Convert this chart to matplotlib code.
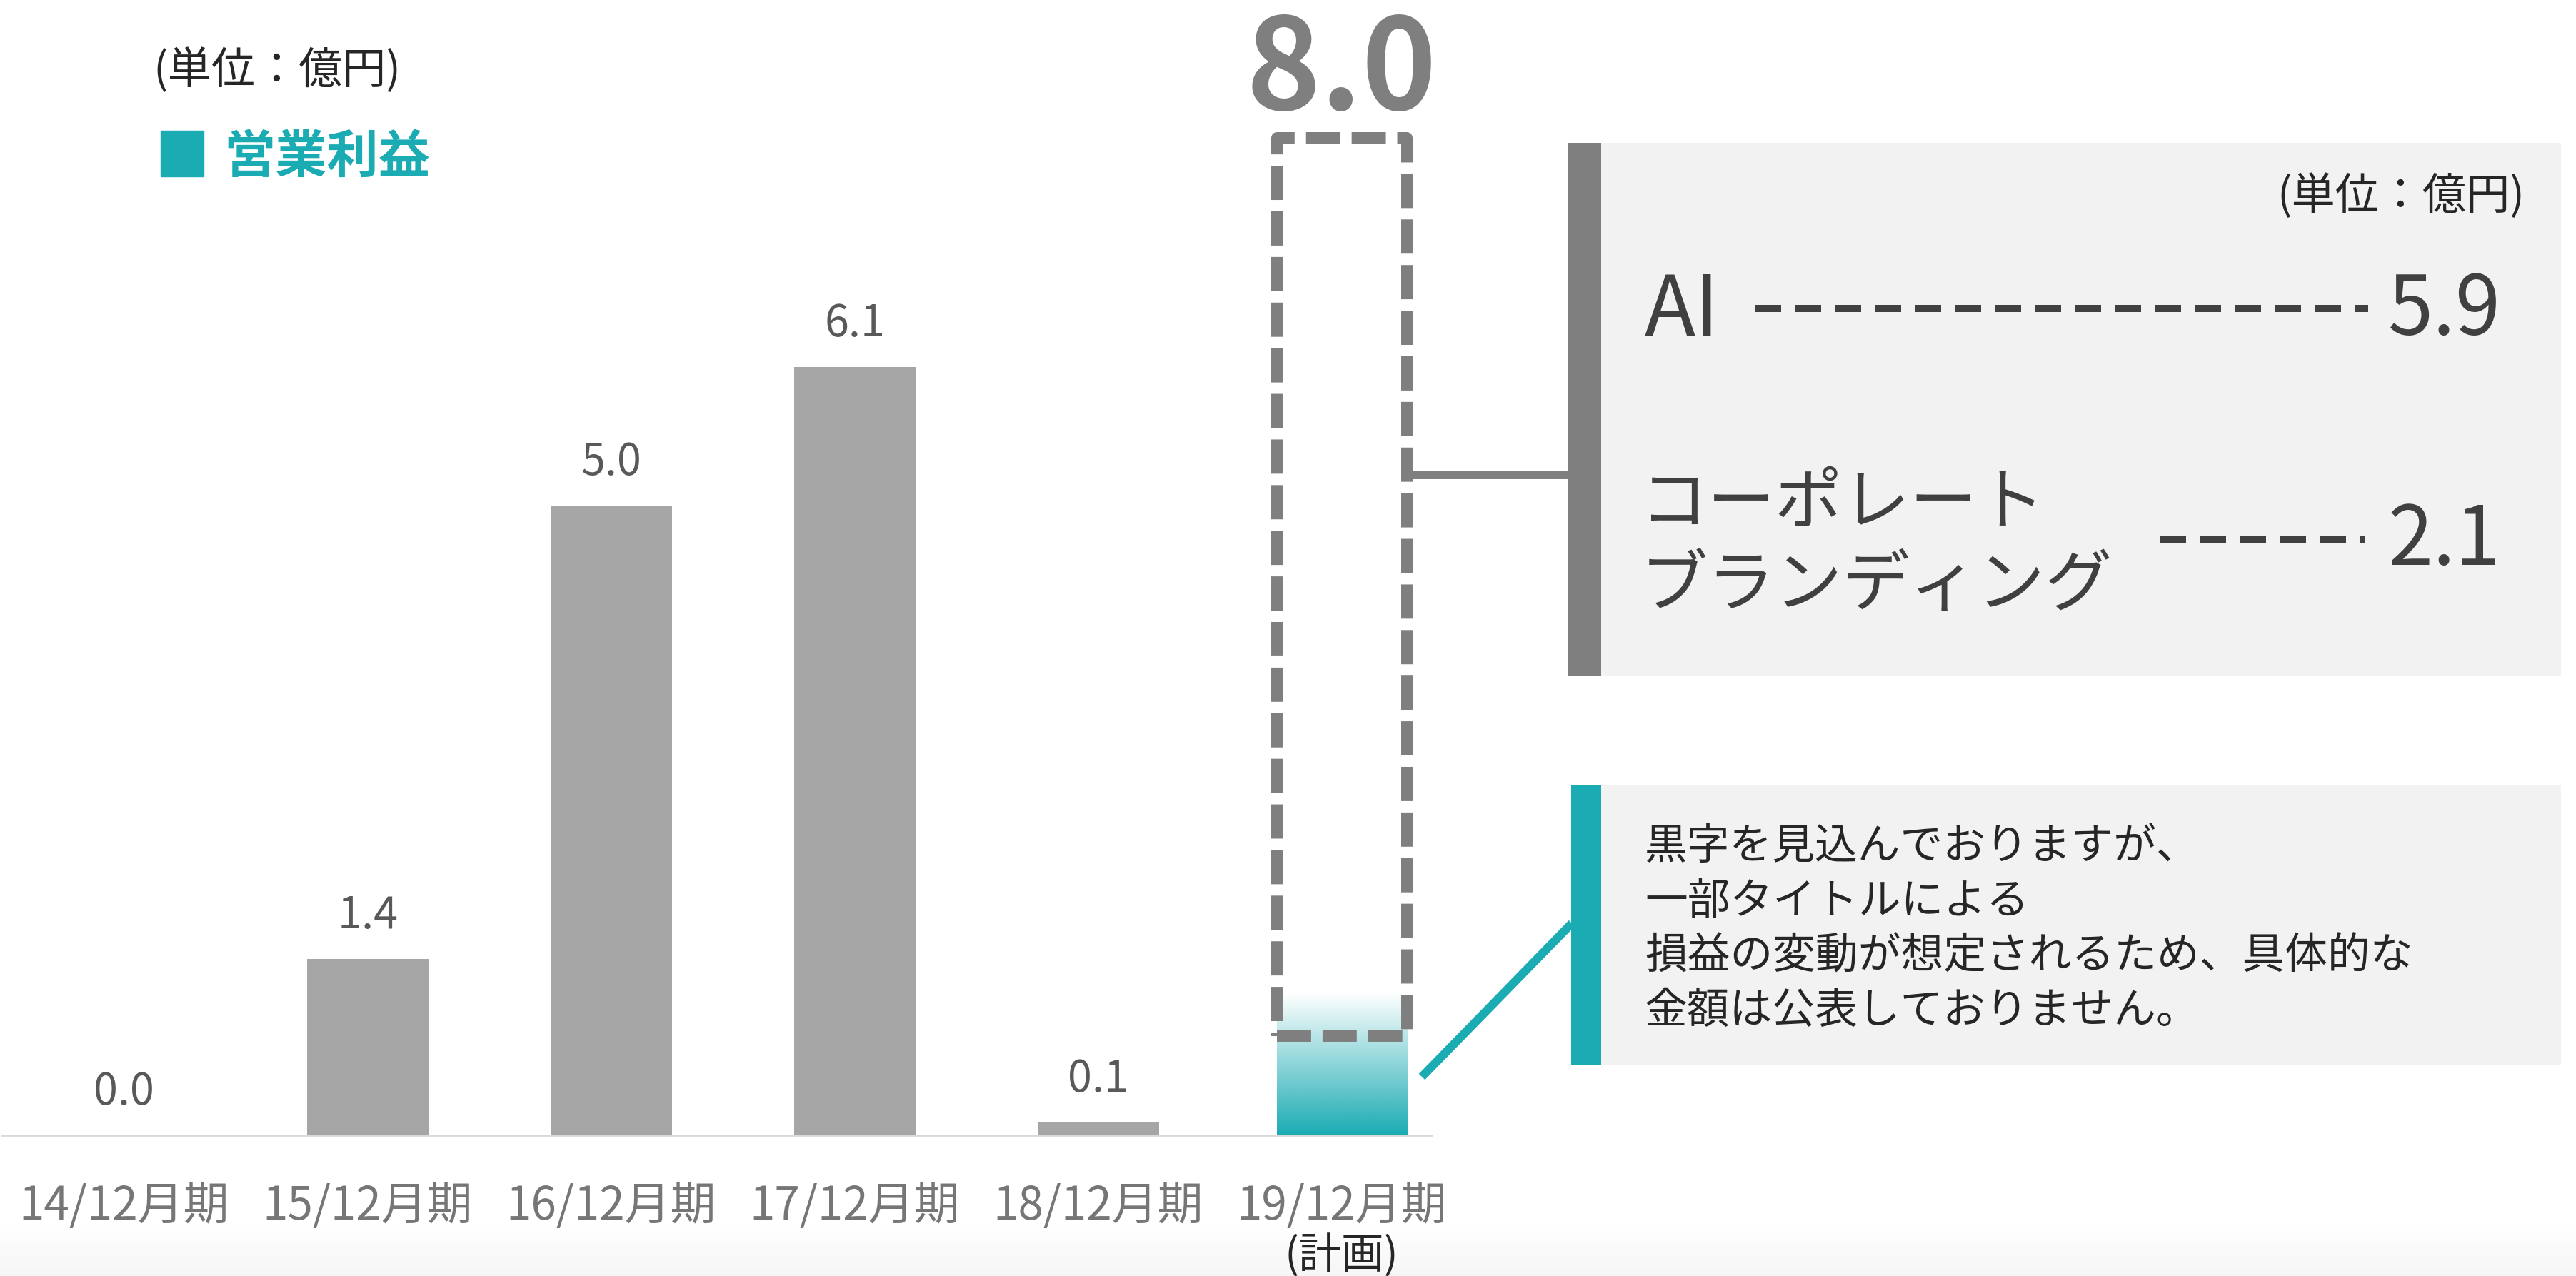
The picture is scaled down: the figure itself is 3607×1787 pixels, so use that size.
import numpy as np
import matplotlib.pyplot as plt
from matplotlib.patches import Rectangle
from matplotlib.colors import to_rgb

plt.rcParams['font.family'] = ['Noto Sans CJK JP', 'DejaVu Sans']

# 営業利益（億円）
periods = ['14/12月期', '15/12月期', '16/12月期', '17/12月期', '18/12月期', '19/12月期']
profit = [0.0, 1.4, 5.0, 6.1, 0.1]
plan_total = 8.0
plan_note = '(計画)'
unit_text = '(単位：億円)'
legend_text = '営業利益'

# 計画の内訳
segments = ['AI', 'コーポレート\nブランディング']
segment_values = [5.9, 2.1]

note_lines = ['黒字を見込んでおりますが、',
              '一部タイトルによる',
              '損益の変動が想定されるため、具体的な',
              '金額は公表しておりません。']

TEAL = '#1aabb3'
BAR_GRAY = '#a6a6a6'
BOX_GRAY = '#7f7f7f'
LABEL_GRAY = '#595959'
TICK_GRAY = '#767676'
DARK = '#262626'
PANEL_TEXT = '#404040'
PANEL_BG = '#f2f2f2'

W, H = 3607, 1787
fig = plt.figure(figsize=(W / 100, H / 100), dpi=100)

# pixel-space layer for the side panels and connectors
ov = fig.add_axes([0, 0, 1, 1])
shade = np.ones((64, 1, 3))
shade[:, 0, :] = np.linspace(1.0, 0.965, 64)[:, None]
ov.imshow(shade, extent=(0, W, H, 1715), origin='upper', aspect='auto', zorder=0)
ov.set_xlim(0, W)
ov.set_ylim(H, 0)
ov.axis('off')

# bar chart
px_per_unit = 176.4
base_y = 1590
ax = fig.add_axes([3 / W, (H - base_y) / H, 2002 / W, 9 * px_per_unit / H])
ax.patch.set_alpha(0)

x = np.arange(len(profit))
ax.bar(x, profit, width=0.5, color=BAR_GRAY, zorder=2)
for xi, v in zip(x, profit):
    ax.annotate(f'{v:.1f}', (xi, v), xytext=(0, 31), textcoords='offset points',
                ha='center', va='baseline', fontsize=44, color=LABEL_GRAY)

# 19/12期: gradient fill + dashed outline for the plan
plan_x = len(profit)
half_w = 0.267
fill_top = 1.13
box_bottom = 0.79
box_inset = 0.08  # keep the thick outline inside the plan height
grad = np.ones((256, 1, 4))
grad[..., :3] = to_rgb(TEAL)
grad[:, 0, 3] = np.linspace(1, 0, 256)
ax.imshow(grad, extent=(plan_x - half_w, plan_x + half_w, 0, fill_top),
          origin='lower', aspect='auto', zorder=2)
ax.add_patch(Rectangle((plan_x - half_w, box_bottom), 2 * half_w,
                       plan_total - box_inset - box_bottom,
                       fill=False, ec=BOX_GRAY, lw=11.5, ls=(0, (3, 1)),
                       joinstyle='round', zorder=3))
ax.annotate(f'{plan_total:.1f}', (plan_x, plan_total), xytext=(0, 18),
            textcoords='offset points', ha='center', va='baseline',
            fontsize=128, fontweight='bold', color=BOX_GRAY)

ax.set_xlim(-0.501, 5.37)
ax.set_ylim(0, 9)
ax.set_yticks([])
ax.set_xticks(range(len(periods)), periods, fontsize=46, color=TICK_GRAY)
ax.tick_params(axis='x', length=0, pad=48)
for s in ['top', 'right', 'left']:
    ax.spines[s].set_visible(False)
ax.spines['bottom'].set_color('#d9d9d9')
ax.spines['bottom'].set_linewidth(2)
ax.text(plan_x, -170 / px_per_unit, plan_note, ha='center', va='center',
        fontsize=43, color=DARK)

# unit and legend
ov.text(214, 117, unit_text, ha='left', va='baseline', fontsize=44, color=DARK)
ov.add_patch(Rectangle((225, 183), 60, 64, color=TEAL))
ov.text(313, 242, legend_text, ha='left', va='baseline', fontsize=52,
        fontweight='bold', color=TEAL)

# breakdown panel
ov.add_patch(Rectangle((2242, 200), 1344, 747, fc=PANEL_BG, ec='none'))
ov.add_patch(Rectangle((2195, 200), 47, 747, fc=BOX_GRAY, ec='none'))
ov.plot([1975, 2195], [665, 665], color=BOX_GRAY, lw=8.6, solid_capstyle='butt')
ov.text(3535, 293, unit_text, ha='right', va='baseline', fontsize=44, color=DARK)

ov.text(2303, 470, segments[0], ha='left', va='baseline', fontsize=84, color=PANEL_TEXT)
ov.plot([2457, 3316], [432, 432], color=PANEL_TEXT, lw=7.2, ls=(0, (3.7, 1.9)))
ov.text(3502, 469, f'{segment_values[0]:.1f}', ha='right', va='baseline',
        fontsize=82, color=PANEL_TEXT)

for k, line in enumerate(segments[1].split('\n')):
    ov.text(2297, 733 + 115 * k, line, ha='left', va='baseline', fontsize=68,
            color=PANEL_TEXT)
ov.plot([3024, 3312], [755, 755], color=PANEL_TEXT, lw=7.2, ls=(0, (3.7, 1.9)))
ov.text(3502, 791, f'{segment_values[1]:.1f}', ha='right', va='baseline',
        fontsize=82, color=PANEL_TEXT)

# note panel
ov.add_patch(Rectangle((2242, 1100), 1344, 392, fc=PANEL_BG, ec='none'))
ov.add_patch(Rectangle((2200, 1100), 42, 392, fc=TEAL, ec='none'))
ov.plot([1991, 2201], [1508, 1293], color=TEAL, lw=8.6, solid_capstyle='butt')
for k, line in enumerate(note_lines):
    ov.text(2303, 1203 + 76.7 * k, line, ha='left', va='baseline', fontsize=43,
            color=DARK)

fig.savefig('out.png', dpi=100)
